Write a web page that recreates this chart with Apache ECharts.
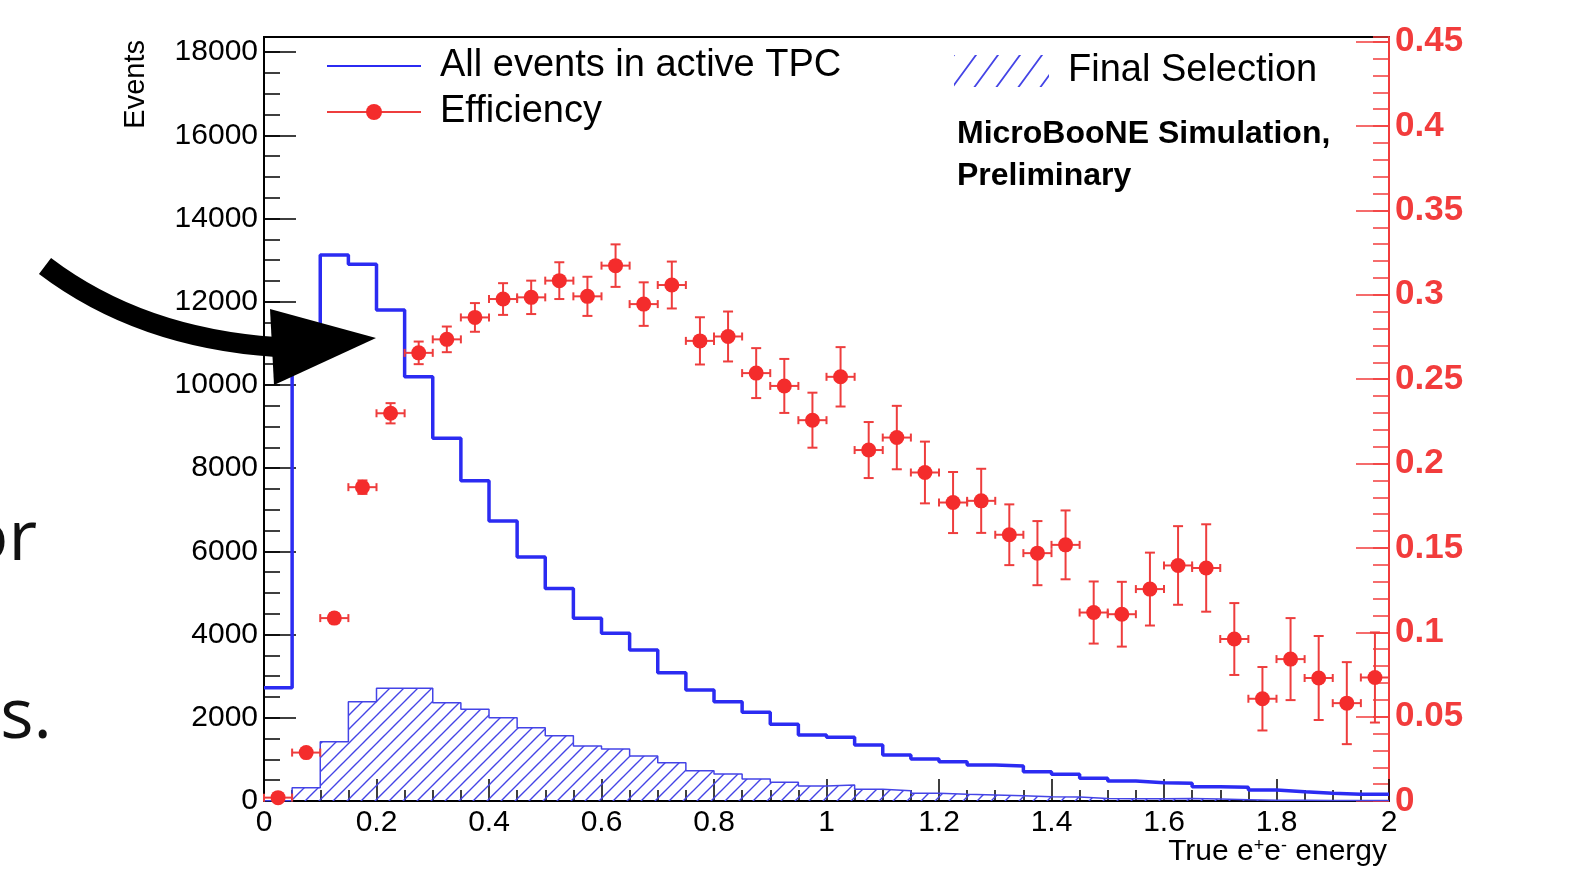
<!DOCTYPE html>
<html lang="en">
<head>
<meta charset="UTF-8">
<title>Efficiency vs true e+e- energy</title>
<script src="https://cdn.jsdelivr.net/npm/echarts@6.0.0/dist/echarts.min.js"></script>
<style>
    html, body { margin: 0; padding: 0; background: #fff; }
    #chart { width: 1596px; height: 873px; }
</style>
</head>
<body>
<div id="chart"></div>
<script>
// histogram bins, 0.05 wide, from 0 to 2
var binLow = [0, 0.05, 0.1, 0.15, 0.2, 0.25, 0.3, 0.35, 0.4, 0.45,
    0.5, 0.55, 0.6, 0.65, 0.7, 0.75, 0.8, 0.85, 0.9, 0.95,
    1, 1.05, 1.1, 1.15, 1.2, 1.25, 1.3, 1.35, 1.4, 1.45,
    1.5, 1.55, 1.6, 1.65, 1.7, 1.75, 1.8, 1.85, 1.9, 1.95];
var binHigh = 2;
var binCenter = [0.025, 0.075, 0.125, 0.175, 0.225, 0.275, 0.325, 0.375, 0.425, 0.475,
    0.525, 0.575, 0.625, 0.675, 0.725, 0.775, 0.825, 0.875, 0.925, 0.975,
    1.025, 1.075, 1.125, 1.175, 1.225, 1.275, 1.325, 1.375, 1.425, 1.475,
    1.525, 1.575, 1.625, 1.675, 1.725, 1.775, 1.825, 1.875, 1.925, 1.975];

// events per bin
var allEvents = [2720, 11150, 13125, 12900, 11800, 10200, 8720, 7700, 6730, 5865,
    5110, 4390, 4030, 3630, 3085, 2670, 2387, 2132, 1844, 1587,
    1531, 1346, 1106, 1010, 945, 865, 841, 704, 641, 546,
    481, 441, 425, 344, 329, 264, 224, 185, 161, 161];
var finalSelection = [5, 320, 1426, 2387, 2709, 2709, 2363, 2204, 2002, 1762,
    1570, 1322, 1250, 1082, 921, 728, 649, 529, 449, 361,
    385, 281, 248, 185, 161, 144, 127, 103, 95, 62,
    54, 55, 58, 48, 33, 17, 19, 14, 10, 12];

// efficiency per bin and its error
var efficiency = [0.002, 0.0287, 0.1084, 0.186, 0.2298, 0.2656, 0.2736, 0.2866, 0.2975, 0.2985,
    0.3084, 0.2991, 0.3173, 0.2945, 0.3058, 0.2727, 0.2753, 0.2536, 0.246, 0.2257,
    0.2514, 0.208, 0.2154, 0.1947, 0.1769, 0.1779, 0.1578, 0.1469, 0.1518, 0.1117,
    0.1107, 0.1256, 0.1396, 0.1381, 0.096, 0.0606, 0.0841, 0.0729, 0.058, 0.0732];
var efficiencyErr = [0.001, 0.002, 0.003, 0.004, 0.006, 0.0067, 0.0076, 0.0085, 0.0094, 0.0099,
    0.0109, 0.0116, 0.0126, 0.0129, 0.0139, 0.014, 0.0148, 0.0148, 0.016, 0.0163,
    0.0176, 0.0166, 0.0188, 0.0183, 0.0181, 0.019, 0.018, 0.019, 0.0204, 0.0184,
    0.0192, 0.0216, 0.0233, 0.0259, 0.0213, 0.0188, 0.0243, 0.0249, 0.0243, 0.0267];

var halfBin = 0.025;
var font = 'Liberation Sans, Arial, Helvetica, sans-serif';
var blue = '#2b2bf2';
var hatchBlue = '#4444e6';
var red = '#f42c2c';
var axisRed = '#f23c3c';

function stepData(values) {
    var pts = [];
    for (var i = 0; i < values.length; i++) pts.push([binLow[i], values[i]]);
    pts.push([binHigh, values[values.length - 1]]);
    return pts;
}

// diagonal hatch texture like ROOT fill style 3004, tile w x h
function hatchPattern(color, w, h, lw) {
    var c = document.createElement('canvas');
    c.width = w;
    c.height = h;
    var g = c.getContext('2d');
    g.strokeStyle = color;
    g.lineWidth = lw;
    g.beginPath();
    g.moveTo(-w / 10, h * 1.1); g.lineTo(w * 1.1, -h / 10);
    g.moveTo(-w / 2, h / 2); g.lineTo(w / 2, -h / 2);
    g.moveTo(w / 2, h * 1.5); g.lineTo(w * 1.5, h / 2);
    g.stroke();
    return { image: c, repeat: 'repeat' };
}
var hatch = hatchPattern(hatchBlue, 14, 14, 1.4);
var hatchIcon = hatchPattern(hatchBlue, 22, 30, 1.8);

var effData = [];
for (var i = 0; i < binCenter.length; i++) {
    effData.push([binCenter[i], efficiency[i], efficiencyErr[i]]);
}

function renderEff(params, api) {
    var x = api.value(0), y = api.value(1), e = api.value(2);
    var c = api.coord([x, y]);
    var l = api.coord([x - halfBin, y]);
    var r = api.coord([x + halfBin, y]);
    var t = api.coord([x, y + e]);
    var b = api.coord([x, y - e]);
    var st = { stroke: '#ee3d3d', lineWidth: 2 };
    return {
        type: 'group',
        children: [
            { type: 'line', shape: { x1: l[0], y1: c[1], x2: r[0], y2: c[1] }, style: st },
            { type: 'line', shape: { x1: l[0], y1: c[1] - 4, x2: l[0], y2: c[1] + 4 }, style: st },
            { type: 'line', shape: { x1: r[0], y1: c[1] - 4, x2: r[0], y2: c[1] + 4 }, style: st },
            { type: 'line', shape: { x1: c[0], y1: t[1], x2: c[0], y2: b[1] }, style: st },
            { type: 'line', shape: { x1: c[0] - 5, y1: t[1], x2: c[0] + 5, y2: t[1] }, style: st },
            { type: 'line', shape: { x1: c[0] - 5, y1: b[1], x2: c[0] + 5, y2: b[1] }, style: st },
            { type: 'circle', shape: { cx: c[0], cy: c[1], r: 7.5 }, style: { fill: red } }
        ]
    };
}

function plainNumber(v) {
    return String(v);
}

var chart = echarts.init(document.getElementById('chart'));

var option = {
    animation: false,
    backgroundColor: '#fff',
    grid: {
        left: 264, right: 207, top: 37, bottom: 72,
        outerBoundsMode: 'none',
        show: true, borderColor: '#000', borderWidth: 2
    },
    title: {
        text: 'MicroBooNE Simulation,\nPreliminary',
        left: 957, top: 113, padding: 0,
        textStyle: { fontFamily: font, fontSize: 32, fontWeight: 'bold', color: '#000', lineHeight: 42 }
    },
    legend: [
        {
            data: [
                { name: 'All events in active TPC', itemStyle: { opacity: 0 } },
                'Efficiency'
            ],
            orient: 'vertical', left: 326, top: 47, padding: 0,
            itemWidth: 94, itemHeight: 20, itemGap: 8,
            selectedMode: false,
            textStyle: { fontFamily: font, fontSize: 38, color: '#000', padding: [0, 0, 0, 14] }
        },
        {
            data: [{ name: 'Final Selection', icon: 'rect', itemStyle: { color: hatchIcon, borderWidth: 0 } }],
            left: 954, top: 52, padding: 0,
            itemWidth: 95, itemHeight: 32,
            selectedMode: false,
            textStyle: { fontFamily: font, fontSize: 38, color: '#000', padding: [0, 0, 0, 14] }
        }
    ],
    xAxis: {
        type: 'value', min: 0, max: 2, interval: 0.2,
        name: 'True e{sup|+}e{sup|-} energy',
        nameLocation: 'end', nameGap: -2, nameMoveOverlap: false,
        nameTextStyle: {
            fontFamily: font, fontSize: 30, color: '#000',
            align: 'right', verticalAlign: 'top', padding: [36, 0, 0, 0],
            rich: { sup: { fontFamily: font, fontSize: 18, color: '#000', verticalAlign: 'top' } }
        },
        axisLine: { lineStyle: { color: '#000', width: 2 } },
        axisTick: { inside: true, length: 22, lineStyle: { color: '#000', width: 1.5 } },
        minorTick: { show: true, splitNumber: 4, length: 11, lineStyle: { color: '#000', width: 1.5 } },
        splitLine: { show: false },
        axisLabel: { fontFamily: font, fontSize: 30, color: '#000', margin: 7 }
    },
    yAxis: [
        {
            type: 'value', position: 'left', min: 0, max: 18365, interval: 2000,
            name: 'Events', nameLocation: 'end', nameRotate: 90, nameGap: -3,
            nameTextStyle: { fontFamily: font, fontSize: 29, color: '#000', align: 'right', verticalAlign: 'bottom', padding: [0, 0, 114, 0] },
            axisLine: { lineStyle: { color: '#000', width: 2 } },
            axisTick: { inside: true, length: 32, lineStyle: { color: '#000', width: 1.5 } },
            splitLine: { show: false },
            axisLabel: { fontFamily: font, fontSize: 30, color: '#000', margin: 6, showMaxLabel: false, formatter: plainNumber }
        },
        {
            type: 'value', position: 'right', min: 0, max: 0.4528, interval: 0.05,
            axisLine: { lineStyle: { color: axisRed, width: 2 } },
            axisTick: { inside: true, length: 33, lineStyle: { color: axisRed, width: 1.5 } },
            splitLine: { show: false },
            axisLabel: { fontFamily: font, fontSize: 35, fontWeight: 'bold', color: axisRed, margin: 6, showMaxLabel: false }
        },
        {
            // minor ticks for the left axis
            type: 'value', position: 'left', min: 0, max: 18365, interval: 500,
            axisLine: { show: false },
            axisTick: { inside: true, length: 16, lineStyle: { color: '#000', width: 1.5 } },
            axisLabel: { show: false },
            splitLine: { show: false }
        },
        {
            // minor ticks for the right axis
            type: 'value', position: 'right', min: 0, max: 0.4528, interval: 0.01,
            axisLine: { show: false },
            axisTick: { inside: true, length: 16, lineStyle: { color: axisRed, width: 1.5 } },
            axisLabel: { show: false },
            splitLine: { show: false }
        }
    ],
    series: [
        {
            name: 'All events in active TPC',
            type: 'line', step: 'end', symbol: 'none', z: 3,
            itemStyle: { color: blue },
            lineStyle: { color: blue, width: 3.5 },
            data: stepData(allEvents)
        },
        {
            name: 'Final Selection',
            type: 'line', step: 'end', symbol: 'none', z: 2,
            itemStyle: { color: hatchBlue },
            lineStyle: { color: hatchBlue, width: 1.5 },
            areaStyle: { color: hatch, opacity: 1 },
            data: stepData(finalSelection)
        },
        {
            name: 'Efficiency',
            type: 'line', yAxisIndex: 1, symbol: 'circle', symbolSize: 14,
            itemStyle: { color: red },
            lineStyle: { color: '#ee3d3d', width: 1.5 },
            data: []
        },
        {
            type: 'custom', yAxisIndex: 1, z: 5, clip: false,
            renderItem: renderEff,
            data: effData
        }
    ],
    graphic: [
        {
            type: 'bezierCurve', z: 100,
            shape: { x1: 45, y1: 266, cpx1: 140, cpy1: 338, x2: 276, y2: 347 },
            style: { stroke: '#000', lineWidth: 20, fill: null }
        },
        {
            type: 'polygon', z: 100,
            shape: { points: [[270, 309], [274, 385], [376, 338]] },
            style: { fill: '#000' }
        },
        {
            type: 'text', z: 100,
            style: { text: 'or', x: 37, y: 540, align: 'right', verticalAlign: 'middle', fontFamily: 'Open Sans', fontSize: 70, fill: '#111' }
        },
        {
            type: 'text', z: 100,
            style: { text: 'ks.', x: 52, y: 718, align: 'right', verticalAlign: 'middle', fontFamily: 'Open Sans', fontSize: 70, fill: '#111' }
        }
    ]
};

chart.setOption(option);
</script>
</body>
</html>
